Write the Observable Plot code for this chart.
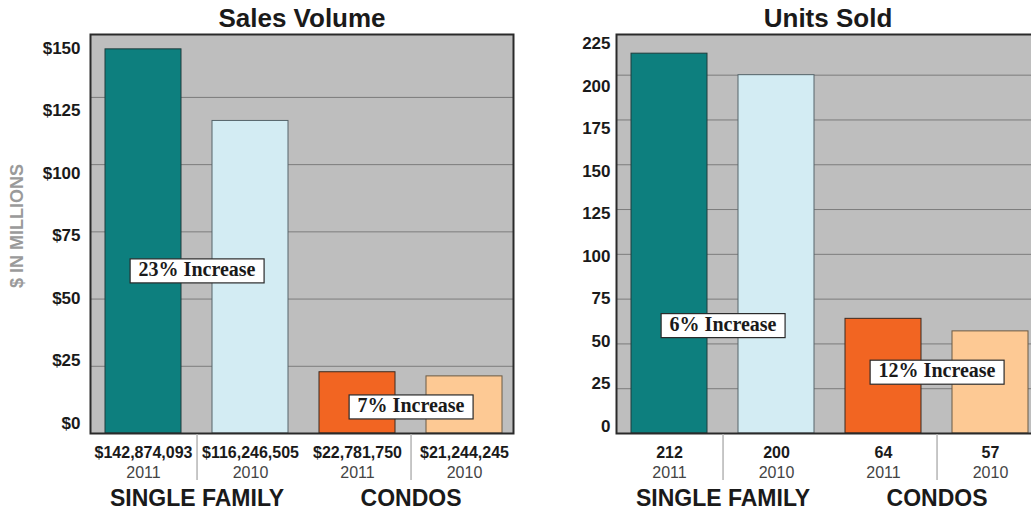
<!DOCTYPE html>
<html><head><meta charset="utf-8">
<script src="https://cdn.jsdelivr.net/npm/d3@7"></script>
<script src="https://cdn.jsdelivr.net/npm/@observablehq/plot@0.6"></script>
<style>
html,body{margin:0;padding:0;background:#fff;}
body{overflow:hidden;width:1031px;height:510px;position:relative;font-family:"Liberation Sans",Arial,sans-serif;}
.panel{position:absolute;top:0;width:530px;height:510px;}
.panel svg{position:absolute;top:0;left:0;overflow:visible;}
</style></head><body>
<div id="left" class="panel" style="left:0"></div>
<div id="right" class="panel" style="left:530px"></div>
<script>
// ---- data ----
const categories = ["SF 2011", "SF 2010", "Condo 2011", "Condo 2010"];
const years = ["2011", "2010", "2011", "2010"];
const groups = ["SINGLE FAMILY", "CONDOS"];
const groupFirst = ["SF 2011", "Condo 2011"];
const barColors = ["#0d7f7e", "#d3ecf3", "#f26522", "#fdc994"];
const barStrokes = ["#1e3c3c", "#56656a", "#3b2a20", "#6b5a44"];

const salesValues = [142.874093, 116.246505, 22.78175, 21.244245]; // $ millions
const salesLabels = ["$142,874,093", "$116,246,505", "$22,781,750", "$21,244,245"];
const salesTicks = [0, 25, 50, 75, 100, 125, 150];
const salesAnnotations = ["23% Increase", "7% Increase"];
const salesAnnotationY = [61, 10.4];

const unitsValues = [212, 200, 64, 57];
const unitsLabels = ["212", "200", "64", "57"];
const unitsTicks = [0, 25, 50, 75, 100, 125, 150, 175, 200, 225];
const unitsAnnotations = ["6% Increase", "12% Increase"];
const unitsAnnotationY = [61, 35];

const FONT = "'Liberation Sans', Arial, Helvetica, sans-serif";

function panel(el, o) {
  const width = 530, height = 510, mt = 34, mb = 77;
  const innerW = width - o.marginLeft - o.marginRight;
  const innerH = height - mt - mb;
  const pi = 0.29, po = 0.12;
  const step = innerW / (categories.length - pi + 2 * po);
  const half = step / 2;
  const data = categories.map((c, i) => ({cat: c, value: o.values[i], label: o.labels[i], year: years[i], fill: barColors[i], stroke: barStrokes[i]}));
  const gdata = groups.map((g, i) => ({group: g, first: groupFirst[i], ann: o.annotations[i], annY: o.annY[i]}));
  const gridTicks = o.ticks.filter(t => t > 0 && t < o.yMax);

  const marks = [
    Plot.frame({fill: "#bebebe", stroke: null}),
    Plot.gridY(gridTicks, {stroke: "#7c7c7c", strokeOpacity: 1, strokeWidth: 1}),
    Plot.barY(data, {x: "cat", y: "value", fill: "fill", stroke: "stroke", strokeWidth: 1}),
    Plot.frame({stroke: "#2a2a2a", strokeWidth: 2}),
    Plot.ruleX(gdata, {x: "first", dx: half, stroke: "#b5b5b5", strokeWidth: 1.5, insetTop: innerH + 1, insetBottom: -47}),
    Plot.text(data, {x: "cat", text: "label", frameAnchor: "bottom", lineAnchor: "middle", dy: 19, fontSize: 16, fontWeight: "bold", fill: "#1a1a1a"}),
    Plot.text(data, {x: "cat", text: "year", frameAnchor: "bottom", lineAnchor: "middle", dy: 39, fontSize: 16, fill: "#444"}),
    Plot.text(gdata, {x: "first", dx: half, text: "group", frameAnchor: "bottom", lineAnchor: "middle", dy: 65, fontSize: 23, fontWeight: "bold", fill: "#1a1a1a"}),
    Plot.text(gdata, {x: "first", dx: half, y: "annY", text: "ann", lineAnchor: "middle", fontFamily: "'Liberation Serif', 'Times New Roman', serif", fontSize: 20, fontWeight: "bold", fill: "#1a1a1a"}),
    Plot.text([o.title], {text: d => d, frameAnchor: "top", lineAnchor: "middle", textAnchor: "middle", dy: -16, fontSize: 26, fontWeight: "bold", fill: "#1a1a1a"})
  ];
  if (o.yLabel) {
    marks.push(Plot.text([o.yLabel], {text: d => d, frameAnchor: "left", textAnchor: "middle", lineAnchor: "middle", dx: -73, dy: -8, rotate: -90, fontSize: 18, fontWeight: "bold", fill: "#9a9a9a"}));
  }

  const main = Plot.plot({
    width, height, marginTop: mt, marginBottom: mb, marginLeft: o.marginLeft, marginRight: o.marginRight,
    style: {fontFamily: FONT, background: "transparent", overflow: "visible"},
    x: {domain: categories, paddingInner: pi, paddingOuter: po, align: 0.57, axis: null},
    y: {domain: [0, o.yMax], axis: null},
    color: {type: "identity"},
    marks
  });
  el.appendChild(main);

  // white boxes behind the annotation labels
  main.querySelectorAll("text").forEach(t => {
    if (!o.annotations.includes(t.textContent)) return;
    const bb = t.getBBox();
    const r = document.createElementNS("http://www.w3.org/2000/svg", "rect");
    r.setAttribute("x", bb.x - 8.5);
    r.setAttribute("y", bb.y + 1);
    r.setAttribute("width", bb.width + 17);
    r.setAttribute("height", bb.height + 2);
    r.setAttribute("fill", "#fff");
    r.setAttribute("stroke", "#2a2a2a");
    r.setAttribute("stroke-width", "1.2");
    if (t.getAttribute("transform")) r.setAttribute("transform", t.getAttribute("transform"));
    t.parentNode.insertBefore(r, t);
  });

  // tick labels (placed on their own scale as in the original artwork)
  const axis = Plot.plot({
    width, height, marginTop: 0, marginBottom: 0, marginLeft: o.marginLeft, marginRight: o.marginRight,
    style: {fontFamily: FONT, background: "transparent", fontSize: "17px", fontWeight: "bold", overflow: "visible"},
    y: {domain: [0, o.ticks[o.ticks.length - 1]], range: o.labelRange},
    marks: [
      Plot.axisY(o.ticks, {tickSize: 0, tickPadding: o.tickPadding, tickFormat: o.tickFormat, label: null, color: "#1a1a1a", fontSize: 17, fontWeight: "bold"})
    ]
  });
  el.appendChild(axis);
}

panel(document.getElementById("left"), {
  title: "Sales Volume", yLabel: "$ IN MILLIONS",
  values: salesValues, labels: salesLabels, ticks: salesTicks, yMax: 148.4,
  annotations: salesAnnotations, annY: salesAnnotationY,
  marginLeft: 90, marginRight: 17, tickPadding: 10,
  labelRange: [423, 48], tickFormat: d => "$" + d
});
panel(document.getElementById("right"), {
  title: "Units Sold", yLabel: null,
  values: unitsValues, labels: unitsLabels, ticks: unitsTicks, yMax: 222.7,
  annotations: unitsAnnotations, annY: unitsAnnotationY,
  marginLeft: 86, marginRight: 21, tickPadding: 6,
  labelRange: [426, 43], tickFormat: d => String(d)
});
</script>
</body></html>
